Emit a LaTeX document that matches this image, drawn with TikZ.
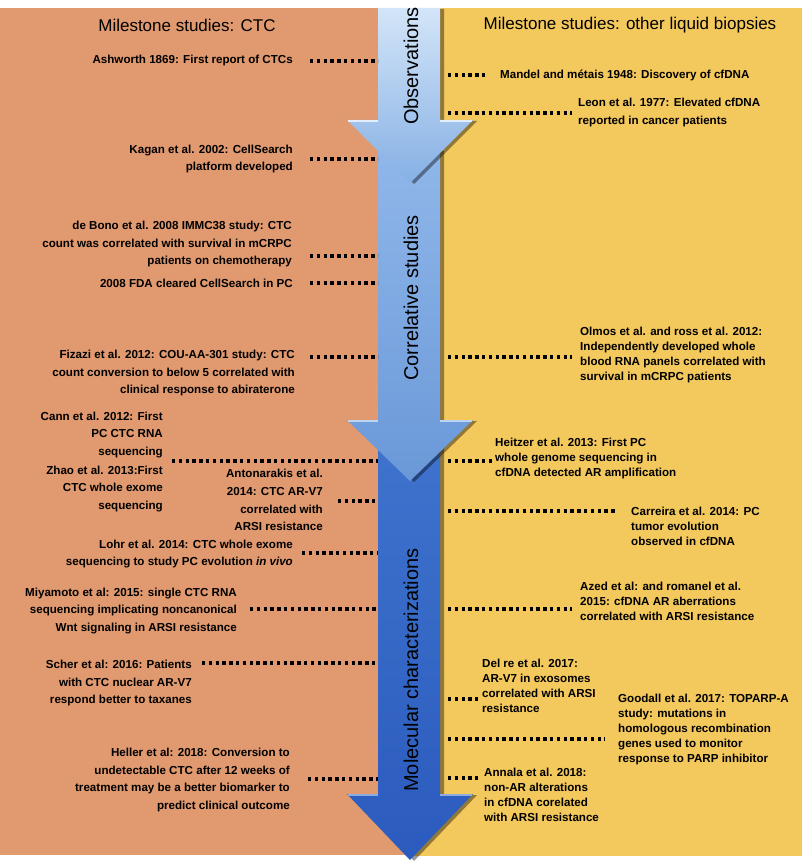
\documentclass[tikz,border=0pt]{standalone}
\usepackage{fontspec}
\setmainfont{Liberation Sans}
\usetikzlibrary{shadows}

\definecolor{bgorange}{HTML}{E1996F}
\definecolor{bgyellow}{HTML}{F3C85C}
\definecolor{obstop}{HTML}{D3E5F8}
\definecolor{obsbot}{HTML}{86B0E4}
\definecolor{cortop}{HTML}{90B7EA}
\definecolor{corbot}{HTML}{6A98D8}
\definecolor{moltop}{HTML}{3F73CD}
\definecolor{molbot}{HTML}{2B5BBE}

\begin{document}
\begin{tikzpicture}[x=1pt,y=-1pt,
  hdr/.style={font=\fontsize{17}{20}\selectfont, inner sep=0},
  ctc/.style={font=\fontsize{11.6}{17.7}\selectfont\bfseries, align=right, anchor=east, inner sep=0},
  liq/.style={font=\fontsize{11.6}{15}\selectfont\bfseries, align=left, anchor=west, inner sep=0},
  phase/.style={font=\fontsize{20}{24}\selectfont, rotate=90, inner sep=0},
  dotline/.style={draw=black, line width=3.2pt, dash pattern=on 3.3pt off 3.5pt},
  arrowshadow/.style={drop shadow={shadow xshift=4pt, shadow yshift=-1pt, opacity=.4, fill=black}}
]
  \useasboundingbox (0,0) rectangle (810,864);

  % --- Background panels ---
  \fill[white] (0,0) rectangle (810,864);
  \fill[bgorange] (0,8) rectangle (410,855);
  \fill[bgyellow] (410,8) rectangle (802,856);

  % --- Phase arrows (bottom one first) ---
  \shade[top color=moltop, bottom color=molbot, arrowshadow]
    (378,440) -- (440,440) -- (440,794) -- (473,794) -- (410,860) -- (347,794) -- (378,794) -- cycle;
  \shade[top color=cortop, bottom color=corbot, arrowshadow]
    (378,150) -- (440,150) -- (440,420) -- (473,420) -- (410,481) -- (347,420) -- (378,420) -- cycle;
  \shade[top color=obstop, bottom color=obsbot, arrowshadow]
    (378,8) -- (440,8) -- (440,120) -- (473,120) -- (410,183) -- (347,120) -- (378,120) -- cycle;

  % light edge on the wings
  \foreach \y/\c in {120/obstop, 420/cortop, 794/moltop} {
    \draw[\c!60!white, line width=1.4pt] (348,\y+1) -- (378,\y+1);
    \draw[\c!60!white, line width=1.4pt] (440,\y+1) -- (472,\y+1);
  }

  \node[phase] (obs) at (411,66) {Observations};
  \node[phase] (corr) at (411,298) {Correlative studies};
  \node[phase] (mol) at (411,670) {Molecular characterizations};

  % --- Headers ---
  \node[hdr] (hdrctc) at (187,25) {Milestone studies: CTC};
  \node[hdr] (hdrliq) at (630,25) {Milestone studies: other liquid biopsies};

  % --- CTC studies (left) ---
  \node[ctc] (ashworth) at (293,61) {Ashworth 1869: First report of CTCs};
  \node[ctc] (kagan) at (293,159) {Kagan et al. 2002: CellSearch\\platform developed};
  \node[ctc] (debono) at (292,244) {de Bono et al. 2008 IMMC38 study: CTC\\count was correlated with survival in mCRPC\\patients on chemotherapy};
  \node[ctc] (fda) at (293,283) {2008 FDA cleared CellSearch in PC};
  \node[ctc] (fizazi) at (295,373) {Fizazi et al. 2012: COU-AA-301 study: CTC\\count conversion to below 5 correlated with\\clinical response to abiraterone};
  \node[ctc] (cann) at (163,435) {Cann et al. 2012: First\\PC CTC RNA\\sequencing};
  \node[ctc] (zhao) at (163,489) {Zhao et al. 2013:First\\CTC whole exome\\sequencing};
  \node[ctc] (antonarakis) at (323,500) {Antonarakis et al.\\2014: CTC AR-V7\\correlated with\\ARSI resistance};
  \node[ctc] (lohr) at (293,554) {Lohr et al. 2014: CTC whole exome\\sequencing to study PC evolution \textit{in vivo}};
  \node[ctc] (miyamoto) at (237,611) {Miyamoto et al: 2015: single CTC RNA\\sequencing implicating noncanonical\\Wnt signaling in ARSI resistance};
  \node[ctc] (scher) at (192,683) {Scher et al: 2016: Patients\\with CTC nuclear AR-V7\\respond better to taxanes};
  \node[ctc] (heller) at (290,780) {Heller et al: 2018: Conversion to\\undetectable CTC after 12 weeks of\\treatment may be a better biomarker to\\predict clinical outcome};

  % --- Other liquid biopsies (right) ---
  \node[liq] (mandel) at (500,75) {Mandel and métais 1948: Discovery of cfDNA};
  \node[liq, font=\fontsize{11.6}{18}\selectfont\bfseries] (leon) at (578,113) {Leon et al. 1977: Elevated cfDNA\\reported in cancer patients};
  \node[liq] (olmos) at (580,355) {Olmos et al. and ross et al. 2012:\\Independently developed whole\\blood RNA panels correlated with\\survival in mCRPC patients};
  \node[liq] (heitzer) at (495,458) {Heitzer et al. 2013: First PC\\whole genome sequencing in\\cfDNA detected AR amplification};
  \node[liq] (carreira) at (631,526) {Carreira et al. 2014: PC\\tumor evolution\\observed in cfDNA};
  \node[liq] (azed) at (580,601) {Azed et al: and romanel et al.\\2015: cfDNA AR aberrations\\correlated with ARSI resistance};
  \node[liq] (delre) at (482,686) {Del re et al. 2017:\\AR-V7 in exosomes\\correlated with ARSI\\resistance};
  \node[liq] (goodall) at (618,729) {Goodall et al. 2017: TOPARP-A\\study: mutations in\\homologous recombination\\genes used to monitor\\response to PARP inhibitor};
  \node[liq] (annala) at (484,795) {Annala et al. 2018:\\non-AR alterations\\in cfDNA corelated\\with ARSI resistance};

  % --- Dotted leaders to the arrow ---
  \coordinate (shaftL) at (378,0);
  \coordinate (shaftR) at (448,0);

  \foreach \n/\xa/\yy in {ashworth/310/61, kagan/310/159, debono/310/256, fda/310/283,
                         fizazi/310/357, cann/172/461, antonarakis/338/501, lohr/302/553,
                         miyamoto/250/609, scher/202/663, heller/308/779} {
    \coordinate (\n-dot) at (\xa,\yy);
    \draw[dotline] (\n-dot) -- (\n-dot -| shaftL);
  }

  \foreach \n/\xa/\yy in {mandel/487/75, leon/572/113, olmos/572/357, heitzer/492/461,
                         carreira/617/511, azed/572/609, delre/478/699, goodall/605/739,
                         annala/478/778} {
    \coordinate (\n-dot) at (\xa,\yy);
    \draw[dotline] (\n-dot -| shaftR) -- (\n-dot);
  }

\end{tikzpicture}
\end{document}
